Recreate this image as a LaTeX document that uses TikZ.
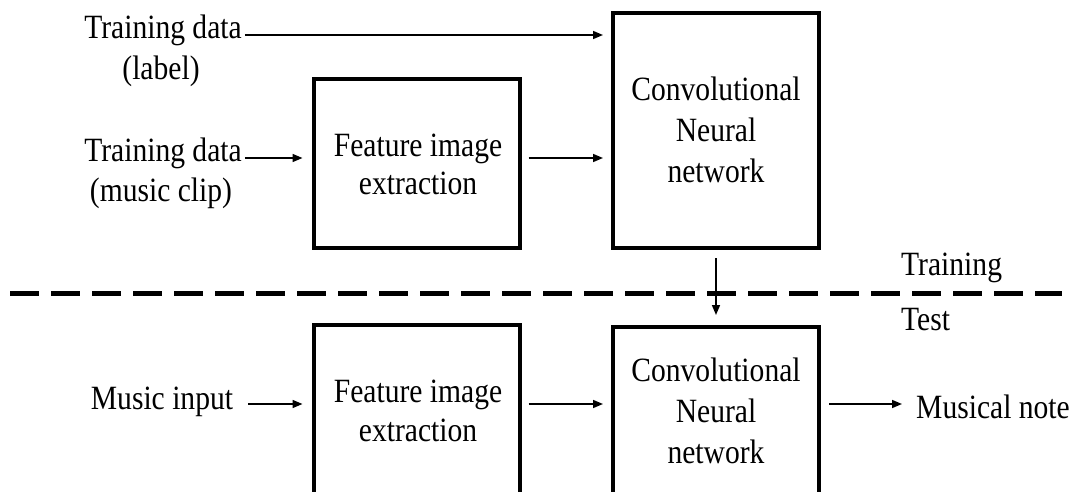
\documentclass[tikz,border=0pt]{standalone}
\usepackage{fontspec}
\setmainfont[FakeStretch=0.87]{Liberation Serif}
\usetikzlibrary{arrows.meta}
\begin{document}
\begin{tikzpicture}[x=1pt,y=-1pt,
  every node/.style={font=\fontsize{34}{40}\selectfont},
  blk/.style={draw,line width=4pt,outer sep=0pt,inner sep=0pt,minimum width=206pt},
  txt/.style={inner sep=0pt,anchor=base},
  txtw/.style={inner sep=0pt,anchor=base west},
  arr/.style={line width=1.6pt,-{Triangle[length=10pt,width=8pt]}},
  sep/.style={line width=5pt,dash pattern=on 29pt off 12pt}]
\useasboundingbox (0,0) rectangle (1072,492);
\clip (0,0) rectangle (1072,492);
% boxes
\node[blk,minimum height=169pt] (fe1) at (416.5,163.5) {};
\node[blk,minimum height=235pt] (cnn1) at (716,130.5) {};
\node[blk,minimum height=169pt] (fe2) at (416.5,409.5) {};
\node[blk,minimum height=235pt] (cnn2) at (716,444.5) {};
% box texts
\node[txt] (fe1a) at (418,157) {Feature image};
\node[txt] (fe1b) at (418,195) {extraction};
\node[txt] (cnn1a) at (716,101) {Convolutional};
\node[txt] (cnn1b) at (716,142) {Neural};
\node[txt] (cnn1c) at (716,183) {network};
\node[txt] (fe2a) at (418,402) {Feature image};
\node[txt] (fe2b) at (418,441) {extraction};
\node[txt] (cnn2a) at (716,381) {Convolutional};
\node[txt] (cnn2b) at (716,422) {Neural};
\node[txt] (cnn2c) at (716,463) {network};
% outer labels
\node[txt] (td1) at (163,39) {Training data};
\node[txt] (td1b) at (161,80) {(label)};
\node[txt] (td2) at (163,162) {Training data};
\node[txt] (td2b) at (161,201) {(music clip)};
\node[txt] (mi) at (162,409) {Music input};
\node[txtw] (mn) at (916,418) {Musical note};
\node[txtw] (trn) at (901,275) {Training};
\node[txtw] (tst) at (901,330) {Test};
% separator
\draw[sep] (10,293) -- (1062,293);
% connectors
\draw[arr,shorten <=3pt,shorten >=10pt] ([yshift=4pt]td1.base east) -- ([yshift=4pt]td1.base east -| cnn1.west);
\draw[arr,shorten <=3pt,shorten >=11pt] ([yshift=4pt]td2.base east) -- ([yshift=4pt]td2.base east -| fe1.west);
\draw[arr,shorten <=9pt,shorten >=10pt] ([yshift=4pt]td2.base east -| fe1.east) -- ([yshift=4pt]td2.base east -| cnn1.west);
\draw[arr,shorten <=10pt,shorten >=12pt] (cnn1.south) -- (cnn2.north);
\draw[arr,shorten <=15pt,shorten >=11pt] ([yshift=5pt]mi.base east) -- ([yshift=5pt]mi.base east -| fe2.west);
\draw[arr,shorten <=9pt,shorten >=10pt] ([yshift=5pt]mi.base east -| fe2.east) -- ([yshift=5pt]mi.base east -| cnn2.west);
\draw[arr,shorten <=10pt,shorten >=14pt] ([yshift=5pt]mi.base east -| cnn2.east) -- ([yshift=5pt]mi.base east -| mn.west);
\end{tikzpicture}
\end{document}
